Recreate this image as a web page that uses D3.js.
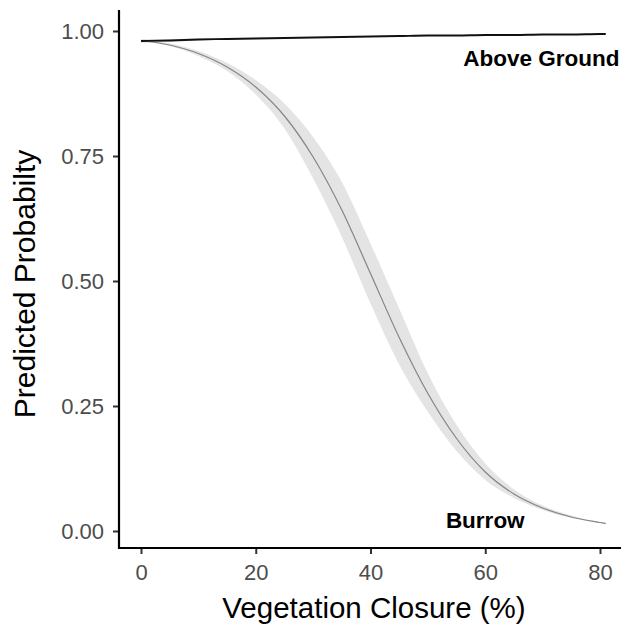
<!DOCTYPE html>
<html>
<head>
<meta charset="utf-8">
<script src="https://cdn.jsdelivr.net/npm/d3@7"></script>
<style>
  body { margin: 0; background: #fff; }
  svg { display: block; font-family: "Liberation Sans", Arial, sans-serif; }
</style>
</head>
<body>
<svg id="chart" width="621" height="627"></svg>
<script>
// values
const closure = [0, 5, 10, 15, 20, 25, 30, 35, 40, 45, 50, 55, 60, 65, 70, 75, 80, 81];

const burrowFit  = [0.981, 0.972, 0.955, 0.928, 0.888, 0.830, 0.748, 0.642, 0.515, 0.387, 0.275, 0.185, 0.118, 0.074, 0.046, 0.028, 0.017, 0.015];
const burrowLow  = [0.979, 0.970, 0.950, 0.920, 0.873, 0.805, 0.705, 0.588, 0.455, 0.333, 0.238, 0.160, 0.102, 0.066, 0.042, 0.026, 0.016, 0.013];
const burrowHigh = [0.983, 0.975, 0.960, 0.936, 0.902, 0.855, 0.788, 0.698, 0.575, 0.445, 0.315, 0.212, 0.135, 0.083, 0.051, 0.031, 0.018, 0.016];

const aboveFit  = [0.980, 0.981, 0.983, 0.984, 0.985, 0.986, 0.987, 0.988, 0.989, 0.990, 0.991, 0.991, 0.992, 0.992, 0.993, 0.993, 0.994, 0.994];
const aboveLow  = [0.976, 0.978, 0.981, 0.983, 0.984, 0.985, 0.986, 0.987, 0.988, 0.989, 0.990, 0.990, 0.991, 0.991, 0.992, 0.992, 0.993, 0.993];
const aboveHigh = [0.984, 0.984, 0.985, 0.986, 0.987, 0.987, 0.988, 0.989, 0.990, 0.991, 0.992, 0.992, 0.993, 0.993, 0.994, 0.994, 0.995, 0.995];

const xTicks = [0, 20, 40, 60, 80];
const yTicks = [0, 0.25, 0.5, 0.75, 1];

const labels = [
    { text: "Above Ground", x: 69.8, y: 0.946 },
    { text: "Burrow", x: 60, y: 0.022 }
];

const svg = d3.select("#chart");

// panel edges in pixels
const panelLeft = 119, panelTop = 10, panelBottom = 548, panelRight = 621;

const x = d3.scaleLinear().domain([0, 80]).range([141, 600]);
const y = d3.scaleLinear().domain([0, 1]).range([531, 31]);

function rows(fit, low, high) {
    return closure.map((c, i) => ({ c: c, fit: fit[i], low: low[i], high: high[i] }));
}
const burrow = rows(burrowFit, burrowLow, burrowHigh);
const above = rows(aboveFit, aboveLow, aboveHigh);

const area = d3.area()
    .x(d => x(d.c))
    .y0(d => y(d.low))
    .y1(d => y(d.high))
    .curve(d3.curveMonotoneX);

const line = d3.line()
    .x(d => x(d.c))
    .y(d => y(d.fit))
    .curve(d3.curveMonotoneX);

// ribbons
svg.append("path").datum(burrow)
    .attr("d", area)
    .attr("fill", "#e4e4e4");
svg.append("path").datum(above)
    .attr("d", area)
    .attr("fill", "#e4e4e4");

// fitted lines
svg.append("path").datum(burrow)
    .attr("d", line)
    .attr("fill", "none")
    .attr("stroke", "#858585")
    .attr("stroke-width", 1.2);
svg.append("path").datum(above)
    .attr("d", line)
    .attr("fill", "none")
    .attr("stroke", "#111")
    .attr("stroke-width", 1.8);

// annotations
svg.selectAll(".lab").data(labels).enter().append("text")
    .attr("class", "lab")
    .attr("x", d => x(d.x))
    .attr("y", d => y(d.y))
    .attr("dy", "0.36em")
    .attr("text-anchor", "middle")
    .style("font-size", "22.5px")
    .style("font-weight", "bold")
    .style("fill", "#000")
    .text(d => d.text);

// y axis
const yAxis = svg.append("g")
    .attr("transform", "translate(" + panelLeft + ",0)")
    .call(d3.axisLeft(y).tickValues(yTicks).tickFormat(d3.format(".2f")).tickSize(6).tickPadding(9));

// x axis
const xAxis = svg.append("g")
    .attr("transform", "translate(0," + panelBottom + ")")
    .call(d3.axisBottom(x).tickValues(xTicks).tickFormat(d3.format("d")).tickSize(6).tickPadding(10));

[xAxis, yAxis].forEach(g => {
    g.select(".domain").remove();
    g.selectAll(".tick line").attr("stroke", "#333").attr("stroke-width", 2);
    g.selectAll(".tick text")
        .style("font-size", "22px")
        .style("font-family", "'Liberation Sans', Arial, sans-serif")
        .attr("fill", "#4d4d4d");
});

// axis lines
svg.append("line")
    .attr("x1", panelLeft).attr("x2", panelLeft)
    .attr("y1", panelTop).attr("y2", panelBottom + 1)
    .attr("stroke", "#000").attr("stroke-width", 2.2);
svg.append("line")
    .attr("x1", panelLeft - 1).attr("x2", panelRight)
    .attr("y1", panelBottom).attr("y2", panelBottom)
    .attr("stroke", "#000").attr("stroke-width", 2.2);

// axis titles
svg.append("text")
    .attr("x", 374)
    .attr("y", 618)
    .attr("text-anchor", "middle")
    .style("font-size", "29.5px")
    .text("Vegetation Closure (%)");

svg.append("text")
    .attr("transform", "translate(35,284) rotate(-90)")
    .attr("text-anchor", "middle")
    .style("font-size", "30px")
    .text("Predicted Probabilty");
</script>
</body>
</html>
